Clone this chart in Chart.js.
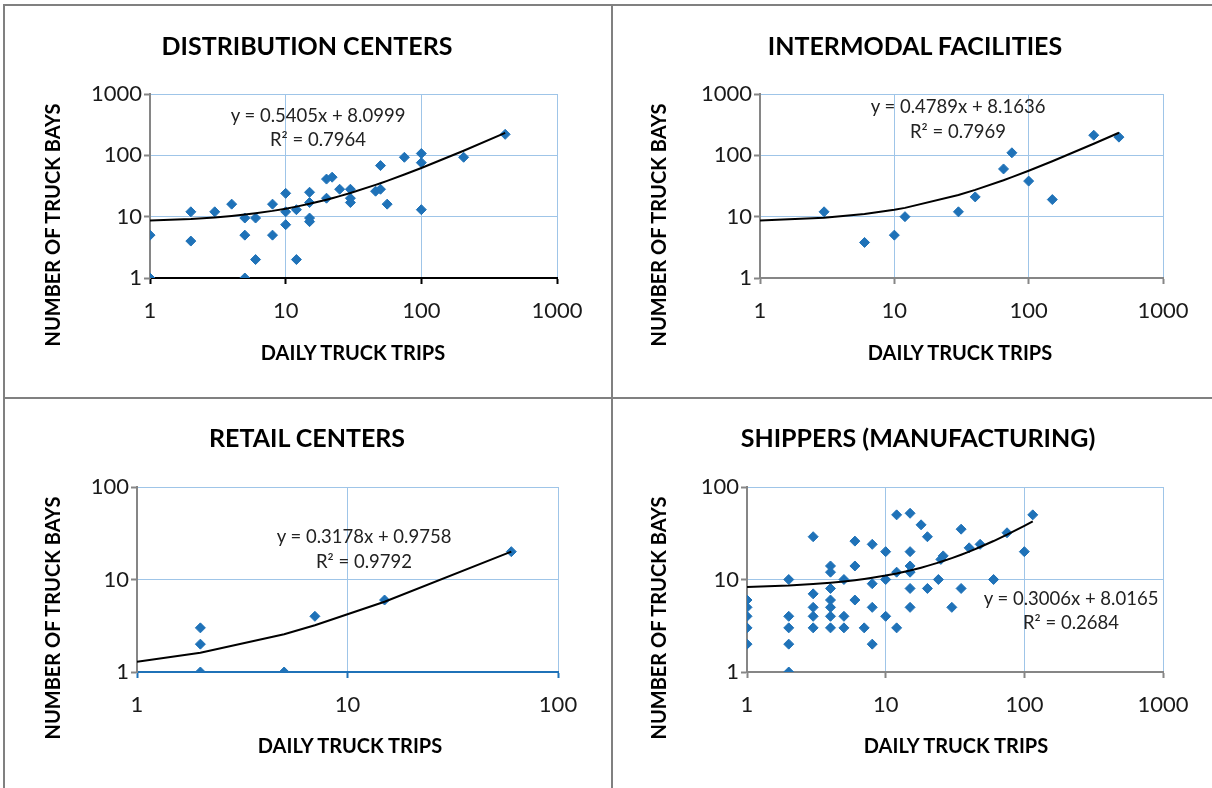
<!DOCTYPE html>
<html>
<head>
<meta charset="utf-8">
<script src="https://cdn.jsdelivr.net/npm/chart.js@4.4.1/dist/chart.umd.min.js"></script>
<style>
  html, body { margin: 0; padding: 0; background: #fff; }
  #wrap { position: relative; width: 1212px; height: 788px; overflow: hidden; background: #fff; font-family: Lato, "Open Sans", sans-serif; }
  canvas { position: absolute; }
  .line { position: absolute; background: #808080; z-index: 5; }
  .txt { position: absolute; white-space: nowrap; transform: translate(-50%, -50%); color: #000; line-height: 1; }
  .title { font-weight: 700; font-size: 25px; }
  .axt { font-weight: 700; font-size: 20px; }
  .yaxt { transform: translate(-50%, -50%) rotate(-90deg); }
  .eq { font-size: 18.5px; color: #222; }
</style>
</head>
<body>
<div id="wrap">
  <div class="line" style="left:3px;top:4px;width:1209px;height:2px"></div>
  <div class="line" style="left:3px;top:4px;width:2px;height:784px"></div>
  <div class="line" style="left:611px;top:4px;width:2px;height:784px"></div>
  <div class="line" style="left:3px;top:397px;width:1209px;height:2px"></div>

  <canvas id="c1" width="610" height="396" style="left:0px;top:0px"></canvas>
  <canvas id="c2" width="599" height="396" style="left:613px;top:0px"></canvas>
  <canvas id="c3" width="611" height="389" style="left:0px;top:399px"></canvas>
  <canvas id="c4" width="599" height="389" style="left:613px;top:399px"></canvas>

  <div class="txt title" style="left:307px;top:45px">DISTRIBUTION CENTERS</div>
  <div class="txt title" style="left:915px;top:45px">INTERMODAL FACILITIES</div>
  <div class="txt title" style="left:307px;top:437px">RETAIL CENTERS</div>
  <div class="txt title" style="left:918px;top:437px">SHIPPERS (MANUFACTURING)</div>

  <div class="txt axt" style="left:353px;top:352px">DAILY TRUCK TRIPS</div>
  <div class="txt axt" style="left:960px;top:352px">DAILY TRUCK TRIPS</div>
  <div class="txt axt" style="left:350px;top:745px">DAILY TRUCK TRIPS</div>
  <div class="txt axt" style="left:956px;top:745px">DAILY TRUCK TRIPS</div>

  <div class="txt axt yaxt" style="left:52px;top:225px">NUMBER OF TRUCK BAYS</div>
  <div class="txt axt yaxt" style="left:658px;top:225px">NUMBER OF TRUCK BAYS</div>
  <div class="txt axt yaxt" style="left:52px;top:618px">NUMBER OF TRUCK BAYS</div>
  <div class="txt axt yaxt" style="left:658px;top:618px">NUMBER OF TRUCK BAYS</div>

  <div class="txt eq" style="left:318px;top:115px">y = 0.5405x + 8.0999</div>
  <div class="txt eq" style="left:318px;top:139px">R² = 0.7964</div>
  <div class="txt eq" style="left:958px;top:106px">y = 0.4789x + 8.1636</div>
  <div class="txt eq" style="left:958px;top:131px">R² = 0.7969</div>
  <div class="txt eq" style="left:364px;top:536px">y = 0.3178x + 0.9758</div>
  <div class="txt eq" style="left:364px;top:561px">R² = 0.9792</div>
  <div class="txt eq" style="left:1071px;top:598px">y = 0.3006x + 8.0165</div>
  <div class="txt eq" style="left:1071px;top:622px">R² = 0.2684</div>
</div>
<script>
// ---------------- DATA ----------------
// Distribution centers
const dcTrips = [1,1,2,2,3,4,5,5,5,6,6,8,8,10,10,10,12,12,15,15,15,15,20,22,20,25,30,30,30,46,50,50,56,75,100,100,100,205,415];
const dcBays  = [5,1,12,4,12,16,9.5,5,1,9.5,2,16,5,24,12,7.4,13,2,25,17,9.5,8.3,41,44,20,28,28,20,17,26,28,68,16,93,107,76,13,93,220];
const dcFit = [0.5405, 8.0999];

// Intermodal facilities
const imTrips = [3,6,10,12,30,40,65,75,100,150,305,470];
const imBays  = [12,3.8,5,10,12,21,60,110,38,19,213,198];
const imFit = [0.4789, 8.1636];

// Retail centers
const rcTrips = [2,2,2,5,7,15,60];
const rcBays  = [3,2,1,1,4,6,20];
const rcFit = [0.3178, 0.9758];

// Shippers (manufacturing)
const shTrips = [1,1,1,1,1, 2,2,2,2,2, 3,3,3,3,3, 4,4,4,4,4,4,4, 5,5,5, 6,6,6, 7, 8,8,8,8, 10,10,10, 12,12,12, 15,15,15,15,15,15, 18, 20,20, 24, 26,25, 30, 35,35, 40, 48, 60, 75, 100, 115];
const shBays  = [6,5,4,3,2, 10,4,3,2,1, 29,7,5,4,3, 14,12,8,6,5,4,3, 10,4,3, 26,14,6, 3, 24,9,5,2, 20,10,4, 50,12,3, 52,20,14,12,8,5, 39, 29,8, 10, 18,16.5, 5, 35,8, 22, 24, 10, 32, 20, 50];
const shFit = [0.3006, 8.0165];

const ticks1000 = [1, 10, 100, 1000];
const ticks100  = [1, 10, 100];
const labels1000 = ['1', '10', '100', '1000'];
const labels100  = ['1', '10', '100'];

// ---------------- STYLE ----------------
const POINT_COLOR = '#1f72b8';
const GRID_COLOR = '#9fc5e8';
const AXIS_GRAY = '#868686';
const TICK_FONT = { family: 'Lato', size: 22 };

function trendPoints(trips, fit, xStart) {
  const xs = Array.from(new Set([xStart].concat(trips))).sort((a, b) => a - b);
  return xs.map(x => ({ x: x, y: fit[0] * x + fit[1] }));
}

function makeChart(id, trips, bays, fit, xTicks, xLabels, yTicks, yLabels, xAxisColor, pad, yW, xH) {
  const pts = trips.map((t, i) => ({ x: t, y: bays[i] }));
  return new Chart(document.getElementById(id), {
    type: 'scatter',
    data: {
      datasets: [
        {
          type: 'line',
          data: trendPoints(trips, fit, xTicks[0]),
          borderColor: '#000',
          borderWidth: 2,
          pointRadius: 0,
          fill: false,
          tension: 0,
          order: 0
        },
        {
          data: pts,
          pointStyle: 'rectRot',
          pointRadius: 5,
          pointBackgroundColor: POINT_COLOR,
          pointBorderColor: POINT_COLOR,
          pointBorderWidth: 1,
          showLine: false,
          order: 1
        }
      ]
    },
    options: {
      responsive: false,
      maintainAspectRatio: false,
      animation: false,
      devicePixelRatio: 1,
      layout: { padding: pad },
      plugins: { legend: { display: false }, tooltip: { enabled: false }, title: { display: false } },
      scales: {
        x: {
          type: 'logarithmic',
          position: 'bottom',
          min: xTicks[0],
          max: xTicks[xTicks.length - 1],
          afterBuildTicks: s => { s.ticks = xTicks.map(v => ({ value: v })); },
          afterFit: s => { s.height = xH; },
          grid: { color: GRID_COLOR, lineWidth: 1, drawTicks: true, tickLength: 6, tickColor: xAxisColor, tickWidth: 2 },
          border: { display: true, color: xAxisColor, width: 2 },
          ticks: {
            font: TICK_FONT, color: '#1a1a1a', padding: 14, autoSkip: false, maxRotation: 0, minRotation: 0,
            callback: (v, i) => xLabels[i]
          }
        },
        y: {
          type: 'logarithmic',
          position: 'left',
          min: yTicks[0],
          max: yTicks[yTicks.length - 1],
          afterBuildTicks: s => { s.ticks = yTicks.map(v => ({ value: v })); },
          afterFit: s => { s.width = yW; },
          grid: { color: GRID_COLOR, lineWidth: 1, drawTicks: true, tickLength: 6, tickColor: AXIS_GRAY, tickWidth: 2 },
          border: { display: true, color: AXIS_GRAY, width: 2 },
          ticks: {
            font: TICK_FONT, color: '#1a1a1a', padding: 2, autoSkip: false,
            callback: (v, i) => yLabels[i]
          }
        }
      }
    }
  });
}

makeChart('c1', dcTrips, dcBays, dcFit, ticks1000, labels1000, ticks1000, labels1000, '#000000',
  { left: 30, top: 94, right: 53, bottom: 58 }, 120, 60);
makeChart('c2', imTrips, imBays, imFit, ticks1000, labels1000, ticks1000, labels1000, AXIS_GRAY,
  { left: 27, top: 94, right: 49, bottom: 58 }, 120, 60);
makeChart('c3', rcTrips, rcBays, rcFit, ticks100, labels100, ticks100, labels100, '#1f72b8',
  { left: 27, top: 88, right: 53, bottom: 56 }, 110, 60);
makeChart('c4', shTrips, shBays, shFit, ticks1000, labels1000, ticks100, labels100, AXIS_GRAY,
  { left: 24, top: 88, right: 49, bottom: 56 }, 110, 60);
</script>
</body>
</html>
